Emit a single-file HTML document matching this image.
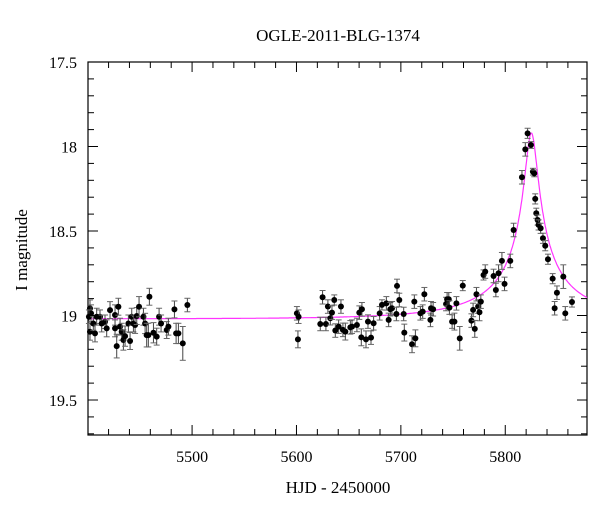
<!DOCTYPE html>
<html><head><meta charset="utf-8"><style>
html,body{margin:0;padding:0;background:#fff;}
svg{display:block;font-family:"Liberation Serif",serif;}
</style></head><body>
<svg id="chart" width="600" height="512" viewBox="0 0 600 512">
<text x="338" y="41" font-size="17" text-anchor="middle">OGLE-2011-BLG-1374</text>
<text x="338" y="493" font-size="17" text-anchor="middle">HJD - 2450000</text>
<text x="27" y="250" font-size="17" text-anchor="middle" transform="rotate(-90 27 250)">I magnitude</text>
<g id="axes"></g>
<g id="model"></g>
<g id="points"></g>
</svg>
<script>
const days=[5402.2,5403.2,5401.2,5402.2,5407.0,5405.4,5408.6,5411.8,5413.4,5416.6,5418.2,5421.4,5426.2,5426.2,5427.8,5429.4,5431.0,5432.6,5434.2,5435.8,5439.0,5440.6,5442.2,5443.8,5445.4,5447.0,5449.2,5453.4,5455.0,5456.5,5458.1,5459.1,5463.0,5466.1,5468.4,5470.3,5475.7,5477.3,5483.1,5484.7,5486.9,5491.1,5495.5,5600.4,5602.0,5601.4,
5622.8,5625.0,5628.2,5630.1,5632.4,5634.0,5636.2,5637.2,5640.4,5642.6,5644.5,5646.8,5651.6,5653.2,5657.9,5660.2,5662.7,5662.1,5666.6,5668.5,5671.4,5673.9,5679.7,5681.9,5686.1,5688.3,5689.9,5691.5,5695.7,5696.3,5698.5,5703.3,5702.7,5710.7,5713.9,5712.9,5718.7,5720.9,5722.5,5728.3,5728.9,5730.9,5743.3,5744.3,5745.9,5746.5,5749.1,5751.3,5753.2,5756.4,5759.3,5767.6,5769.2,5770.8,5772.4,5774.0,5775.3,5776.6,
5779.2,5780.8,5788.8,5791.0,5793.6,5796.8,5799.3,5804.8,5808.0,5816.0,5819.2,5821.4,5824.6,5826.5,5827.8,5828.7,5829.7,5831.0,5831.9,5833.9,5836.1,5838.3,5840.9,5845.4,5847.3,5849.5,5855.6,5857.5,5863.9];
const mags=[18.958,18.987,19.007,19.096,19.106,19.047,19.007,19.007,19.047,19.037,19.076,18.968,18.997,19.076,19.181,18.948,19.066,19.096,19.145,19.122,19.047,19.151,19.007,19.047,19.056,19.003,18.948,19.007,19.047,19.116,19.116,18.889,19.102,19.125,19.007,19.047,19.086,19.066,18.964,19.106,19.106,19.165,18.938,18.987,19.007,19.141,
19.050,18.892,19.050,18.947,19.016,18.983,18.908,19.089,19.066,18.947,19.085,19.095,19.070,19.066,19.056,18.983,18.963,19.129,19.141,19.036,19.131,19.046,18.987,18.937,18.928,19.026,18.963,18.957,18.991,18.825,18.908,19.101,18.991,19.170,19.135,18.918,18.987,18.977,18.874,19.026,18.957,18.963,18.932,18.904,18.904,18.953,19.036,19.036,18.928,19.135,18.823,19.030,18.967,19.079,18.874,18.947,18.981,18.918,
18.760,18.740,18.766,18.849,18.750,18.677,18.813,18.677,18.494,18.182,18.017,17.922,17.991,18.149,18.159,18.310,18.395,18.435,18.464,18.484,18.543,18.587,18.667,18.782,18.957,18.865,18.770,18.987,18.920];
const errs=[0.05,0.05,0.04,0.05,0.05,0.04,0.05,0.04,0.05,0.04,0.05,0.05,0.06,0.05,0.07,0.05,0.05,0.05,0.06,0.06,0.05,0.05,0.05,0.05,0.05,0.05,0.06,0.05,0.06,0.07,0.07,0.05,0.06,0.05,0.05,0.05,0.05,0.05,0.05,0.06,0.06,0.1,0.04,0.04,0.04,0.05,
0.04,0.04,0.04,0.04,0.04,0.04,0.03,0.04,0.04,0.04,0.04,0.05,0.04,0.04,0.04,0.04,0.04,0.05,0.05,0.04,0.04,0.04,0.04,0.03,0.04,0.04,0.04,0.04,0.04,0.04,0.04,0.05,0.04,0.05,0.05,0.04,0.04,0.04,0.04,0.04,0.04,0.04,0.04,0.04,0.04,0.04,0.04,0.05,0.04,0.07,0.03,0.04,0.04,0.05,0.04,0.04,0.05,0.04,
0.03,0.04,0.04,0.04,0.05,0.05,0.04,0.04,0.04,0.04,0.04,0.03,0.02,0.02,0.02,0.03,0.03,0.03,0.03,0.03,0.03,0.03,0.03,0.03,0.04,0.04,0.07,0.04,0.03,0.05,0.05].slice(0,0);
const errVals=[0.05,0.05,0.04,0.05,0.05,0.04,0.05,0.04,0.05,0.04,0.05,0.05,0.06,0.05,0.07,0.05,0.05,0.05,0.06,0.06,0.05,0.05,0.05,0.05,0.05,0.05,0.06,0.05,0.06,0.07,0.07,0.05,0.06,0.05,0.05,0.05,0.05,0.05,0.05,0.06,0.06,0.1,0.04,0.04,0.04,0.05,
0.04,0.04,0.04,0.04,0.04,0.04,0.03,0.04,0.04,0.04,0.04,0.05,0.04,0.04,0.04,0.04,0.04,0.05,0.05,0.04,0.04,0.04,0.04,0.03,0.04,0.04,0.04,0.04,0.04,0.04,0.04,0.05,0.04,0.05,0.05,0.04,0.04,0.04,0.04,0.04,0.04,0.04,0.04,0.04,0.04,0.04,0.04,0.05,0.04,0.07,0.03,0.04,0.04,0.05,0.04,0.04,0.05,0.04,0.03,0.04,
0.04,0.04,0.05,0.05,0.04,0.04,0.04,0.04,0.04,0.03,0.02,0.02,0.02,0.03,0.03,0.03,0.03,0.03,0.03,0.03,0.03,0.03,0.04,0.04,0.07,0.04,0.03,0.05,0.05];
const xTicks=[5500,5600,5700,5800];
const yTicks=[17.5,18,18.5,19,19.5];
const yTickLabels=["17.5","18","18.5","19","19.5"];
const model={t0:5825,tE:110,u0:0.054,fs:0.1,base:19.02};

const L=88,R=587,T=62,B=435;
const xMin=5400.3,xMax=5878.3,yMin=17.5,yMax=19.707;
const X=d=>L+(d-xMin)/(xMax-xMin)*(R-L);
const Y=m=>T+(m-yMin)/(yMax-yMin)*(B-T);
const NS="http://www.w3.org/2000/svg";
function mk(tag,attrs,parent){const e=document.createElementNS(NS,tag);for(const k in attrs)e.setAttribute(k,attrs[k]);parent.appendChild(e);return e;}
const axes=document.getElementById('axes');
const frame=mk('rect',{x:L,y:T,width:R-L,height:B-T,fill:'none',stroke:'#000','stroke-width':1.2},axes);


for(let d=5420;d<xMax;d+=20){
  const major=d%100===0;const len=major?10:6;const x=X(d);
  const t1=mk('line',{x1:x,x2:x,y1:B,y2:B-len,stroke:'#000','stroke-width':1},axes);
  
  
  const t2=mk('line',{x1:x,x2:x,y1:T,y2:T+len,stroke:'#000','stroke-width':1},axes);
  
  
}
xTicks.forEach(d=>{
  const t=mk('text',{x:X(d),y:B+27,'font-size':16,'text-anchor':'middle'},axes);t.textContent=d;
  
  
});
for(let i=0;i*0.1+yMin<=yMax+1e-6;i++){
  const m=yMin+i*0.1;const major=i%5===0;const len=major?10:6;const y=Y(m);
  const t1=mk('line',{x1:L,x2:L+len,y1:y,y2:y,stroke:'#000','stroke-width':1},axes);
  
  
  const t2=mk('line',{x1:R,x2:R-len,y1:y,y2:y,stroke:'#000','stroke-width':1},axes);
  
  
}
yTicks.forEach((m,i)=>{
  const t=mk('text',{x:L-11,y:Y(m)+6,'font-size':16,'text-anchor':'end'},axes);t.textContent=yTickLabels[i];
  
  
});
let p='';
for(let d=xMin;d<=xMax;d+=0.5){
  const u=Math.hypot(model.u0,(d-model.t0)/model.tE);
  const A=(u*u+2)/(u*Math.sqrt(u*u+4));
  const m=model.base-2.5*Math.log10(model.fs*A+1-model.fs);
  p+=(p?'L':'M')+X(d).toFixed(1)+','+Y(m).toFixed(1);
}
const mc=mk('path',{d:p,fill:'none',stroke:'#ff33ff','stroke-width':1.2},document.getElementById('model'));


const pts=document.getElementById('points');
days.forEach((d,i)=>{
  const e=errVals[i]||0.04;
  const x=X(d),y=Y(mags[i]),y1=Y(mags[i]-e),y2=Y(mags[i]+e);
  const g=mk('g',{},pts);
  
  
  mk('line',{x1:x,x2:x,y1:y1,y2:y2,stroke:'#444','stroke-width':1},g);
  mk('line',{x1:x-3,x2:x+3,y1:y1,y2:y1,stroke:'#666','stroke-width':1},g);
  mk('line',{x1:x-3,x2:x+3,y1:y2,y2:y2,stroke:'#666','stroke-width':1},g);
  mk('circle',{cx:x,cy:y,r:3,fill:'#000'},g);
});
</script>
</body></html>
